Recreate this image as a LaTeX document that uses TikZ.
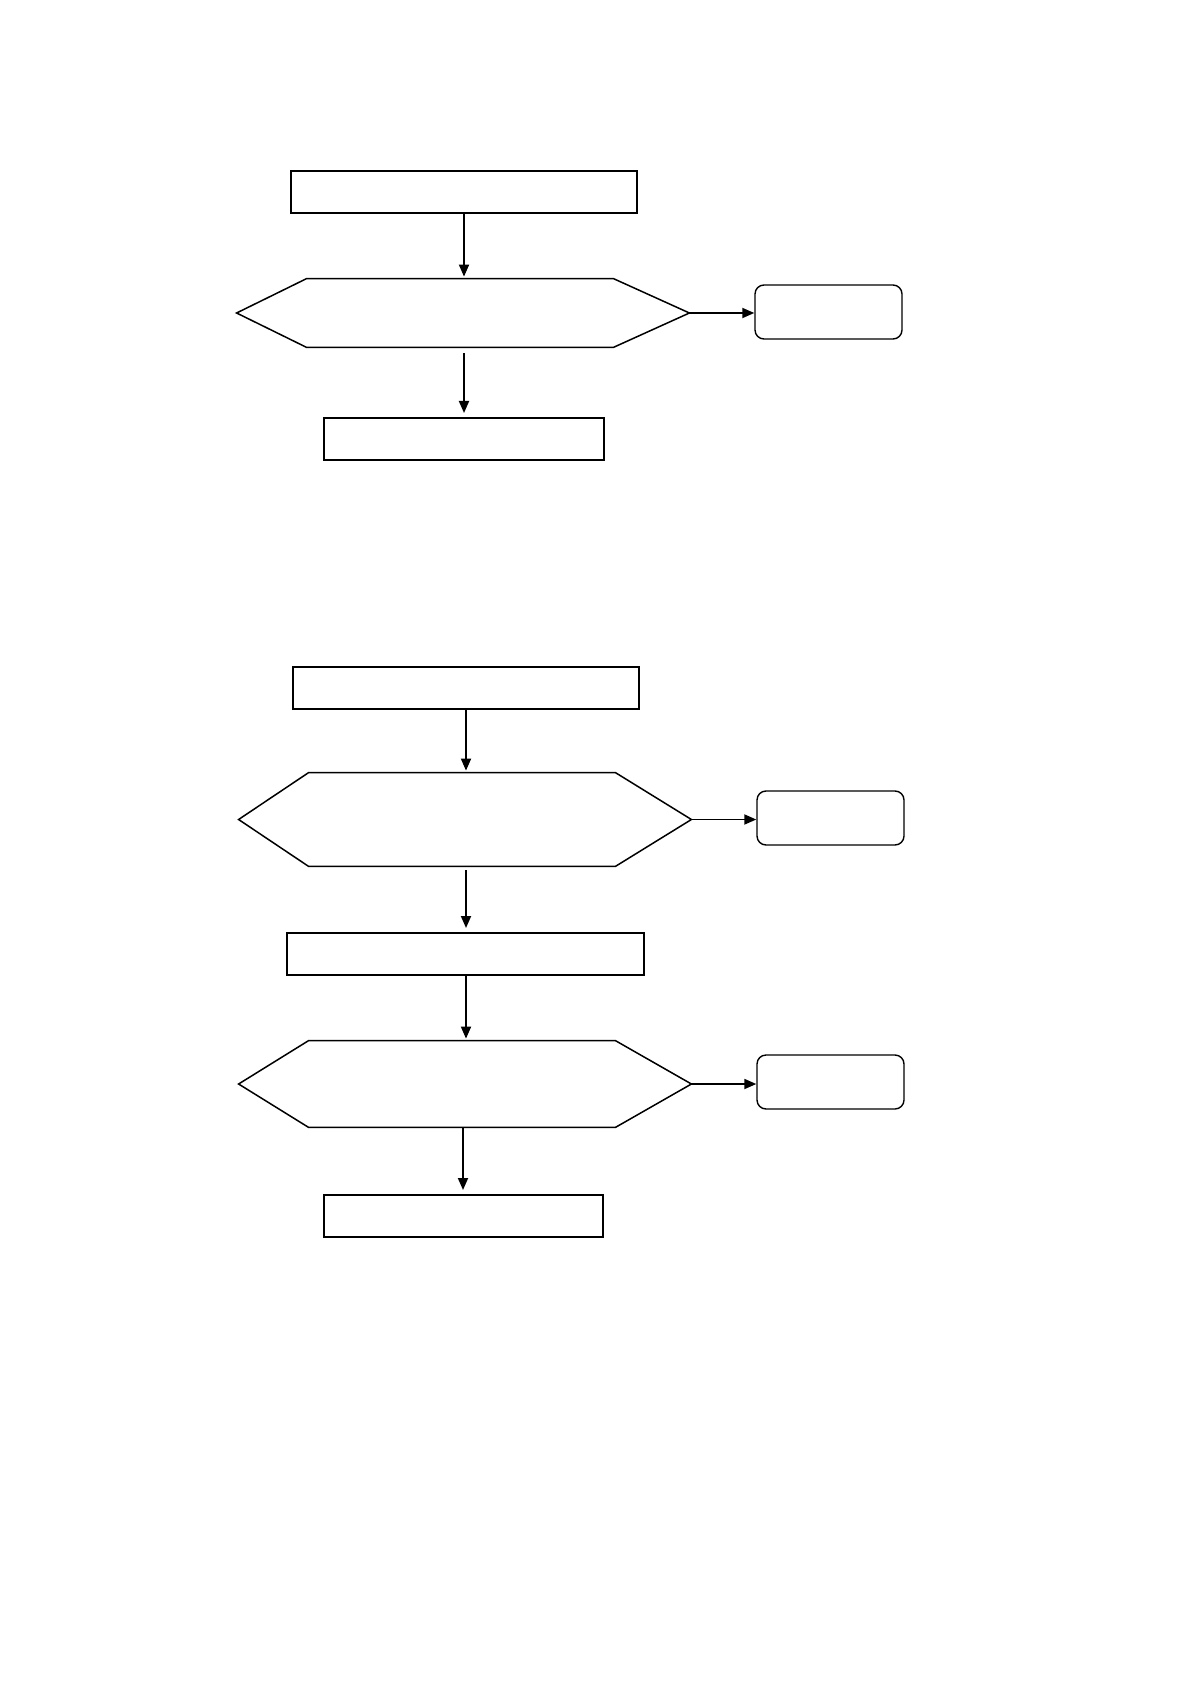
\documentclass[tikz,border=0pt]{standalone}
\usetikzlibrary{arrows.meta}
\begin{document}
\begin{tikzpicture}[x=0.5pt,y=-0.5pt,
  procbox/.style={draw=black,line width=1pt,inner sep=0pt,minimum width=#1,minimum height=21pt},
  hexnode/.style={draw=none,inner sep=0pt,minimum width=226pt,minimum height=#1},
  hexline/.style={draw=black,line width=0.75pt},
  endbox/.style={draw=black,line width=0.7pt,rounded corners=4.5pt,inner sep=0pt,minimum width=73.5pt,minimum height=27pt},
  flow/.style={-{Triangle[length=6pt,width=5pt]},line width=0.9pt}
]
\useasboundingbox (0,0) rectangle (1191,1684);
\fill[white] (0,0) rectangle (1191,1684);

% upper chart
\node[procbox=173pt] (b1) at (464,192) {};
\node[hexnode=34pt] (h1) at (463,313) {};
\node[endbox] (r1) at (828.5,312) {};
\node[procbox=140pt] (b2) at (464,439) {};

% lower chart
\node[procbox=173pt] (b3) at (466,688) {};
\node[hexnode=46.5pt] (h2) at (465,819.5) {};
\node[endbox] (r2) at (830.5,818) {};
\node[procbox=178.5pt] (b4) at (465.5,954) {};
\node[hexnode=43pt] (h3) at (465,1084) {};
\node[endbox] (r3) at (830.5,1082) {};
\node[procbox=139.5pt] (b5) at (463,1216) {};

% hexagon outlines
\foreach \h in {h1,h2,h3}{
  \draw[hexline] (\h.west) -- ([xshift=35pt]\h.north west) -- ([xshift=-38pt]\h.north east)
    -- (\h.east) -- ([xshift=-38pt]\h.south east) -- ([xshift=35pt]\h.south west) -- cycle;
}

% connectors
\draw[flow,shorten >=1pt] (b1.south) -- (b1.south |- h1.north);
\draw[flow,shorten <=3pt,shorten >=2pt] (h1.south -| b2.north) -- (b2.north);
\draw[flow] (h1.east) -- (h1.east -| r1.west);

\draw[flow,shorten >=1pt] (b3.south) -- (b3.south |- h2.north);
\draw[flow,shorten <=2pt,shorten >=2pt] (h2.south -| b3.south) -- (b3.south |- b4.north);
\draw[flow] (h2.east) -- (h2.east -| r2.west);

\draw[flow,shorten >=1pt] (b4.south -| b3.south) -- (b3.south |- h3.north);
\draw[flow,shorten >=2pt] (h3.south -| b5.north) -- (b5.north);
\draw[flow] (h3.east) -- (h3.east -| r3.west);
\end{tikzpicture}
\end{document}
